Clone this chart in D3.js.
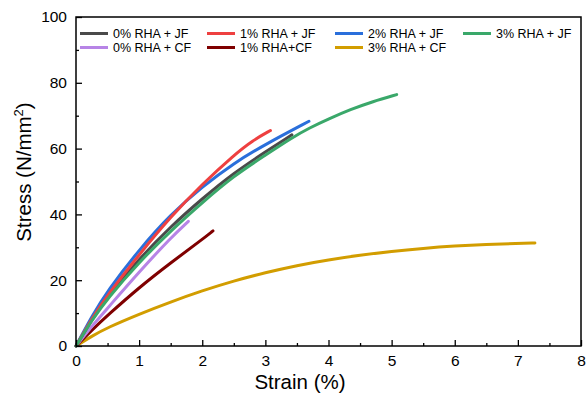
<!DOCTYPE html>
<html>
<head>
<meta charset="utf-8">
<script src="https://cdn.jsdelivr.net/npm/d3@7"></script>
<style>
  html, body { margin: 0; padding: 0; background: #fff; }
  svg { display: block; }
  text { font-family: "Liberation Sans", Arial, sans-serif; fill: #000; }
</style>
</head>
<body>
<svg id="chart" width="586" height="393"></svg>
<script>
// Stress–strain curves, strain in %, stress in N/mm²
const seriesNames = ["0% RHA + JF", "1% RHA + JF", "2% RHA + JF", "3% RHA + JF",
                     "0% RHA + CF", "1% RHA+CF", "3% RHA + CF"];
const seriesColors = ["#4a4a4a", "#ee4040", "#2a6fdb", "#3aa86a",
                      "#b784e6", "#7f0000", "#d29d00"];

const jf0Strain = [0, 0.25, 0.5, 1.0, 1.5, 2.0, 2.5, 3.0, 3.42];
const jf0Stress = [0, 8.0, 15.0, 26.5, 36.3, 44.8, 52.6, 59.0, 64.2];

const jf1Strain = [0, 0.25, 0.5, 1.0, 1.5, 2.0, 2.5, 2.8, 3.08];
const jf1Stress = [0, 8.3, 15.5, 27.8, 39.3, 49.2, 58.0, 62.5, 65.5];

const jf2Strain = [0, 0.25, 0.5, 1.0, 1.5, 2.0, 2.5, 3.0, 3.69];
const jf2Stress = [0, 9.0, 16.8, 29.3, 40.0, 48.4, 55.6, 61.3, 68.3];

const jf3Strain = [0, 0.25, 0.5, 1.0, 1.5, 2.0, 2.5, 3.0, 3.42, 3.7, 4.0, 4.35, 4.7, 5.08];
const jf3Stress = [0, 7.8, 14.5, 25.5, 35.0, 43.6, 51.7, 58.0, 63.3, 66.3, 69.0, 71.9, 74.3, 76.4];

const cf0Strain = [0, 0.25, 0.5, 1.0, 1.5, 1.78];
const cf0Stress = [0, 6.0, 11.5, 22.5, 32.9, 37.9];

const cf1Strain = [0, 0.25, 0.5, 1.0, 1.5, 2.0, 2.17];
const cf1Stress = [0, 4.8, 9.3, 17.8, 25.3, 32.4, 35.0];

const cf3Strain = [0, 0.25, 0.5, 1.0, 1.5, 2.0, 2.5, 3.0, 3.5, 4.0, 4.5, 5.0, 5.5, 6.0, 6.5, 7.0, 7.27];
const cf3Stress = [0, 3.0, 5.6, 9.7, 13.4, 16.8, 19.8, 22.3, 24.5, 26.2, 27.6, 28.8, 29.7, 30.4, 30.9, 31.2, 31.3];

const xTicks = [0, 1, 2, 3, 4, 5, 6, 7, 8];
const yTicks = [0, 20, 40, 60, 80, 100];

const strainSets = [jf0Strain, jf1Strain, jf2Strain, jf3Strain, cf0Strain, cf1Strain, cf3Strain];
const stressSets = [jf0Stress, jf1Stress, jf2Stress, jf3Stress, cf0Stress, cf1Stress, cf3Stress];

const svg = d3.select("#chart");
const plotLeft = 76, plotRight = 581, plotTop = 17, plotBottom = 346;

const x = d3.scaleLinear().domain([0, 8]).range([plotLeft, plotRight]);
const y = d3.scaleLinear().domain([0, 100]).range([plotBottom, plotTop]);

// curves (drawn under the frame), smoothed through the measured points
const line = d3.line().x(d => x(d[0])).y(d => y(d[1])).curve(d3.curveBasis);
const drawOrder = [6, 5, 4, 0, 2, 1, 3];
drawOrder.forEach(i => {
  const pts = strainSets[i].map((s, k) => [s, stressSets[i][k]]);
  svg.append("path")
    .datum(pts)
    .attr("d", line)
    .attr("fill", "none")
    .attr("stroke", seriesColors[i])
    .attr("stroke-width", 3)
    .attr("stroke-linecap", "round")
    .attr("stroke-linejoin", "round");
});

// axes with inward ticks
const xAxis = d3.axisBottom(x).tickValues(xTicks).tickSize(-6).tickPadding(9).tickFormat(d3.format("d"));
const xMinor = d3.axisBottom(x).tickValues(d3.range(0.5, 8, 1)).tickSize(-3).tickFormat("");
const yAxis = d3.axisLeft(y).tickValues(yTicks).tickSize(-6).tickPadding(9).tickFormat(d3.format("d"));
const yMinor = d3.axisLeft(y).tickValues(d3.range(10, 100, 20)).tickSize(-3).tickFormat("");

function styleAxis(g) {
  g.select(".domain").remove();
  g.selectAll(".tick line").attr("stroke", "#000").attr("stroke-width", 1.3);
  g.selectAll(".tick text").style("font-size", "15.5px").style("font-family", "Liberation Sans, Arial, sans-serif");
}

svg.append("g").attr("transform", `translate(0,${plotBottom})`).call(xAxis).call(styleAxis);
svg.append("g").attr("transform", `translate(0,${plotBottom})`).call(xMinor).call(styleAxis);
svg.append("g").attr("transform", `translate(${plotLeft},0)`).call(yAxis).call(styleAxis);
svg.append("g").attr("transform", `translate(${plotLeft},0)`).call(yMinor).call(styleAxis);

// frame
svg.append("rect")
  .attr("x", plotLeft).attr("y", plotTop)
  .attr("width", plotRight - plotLeft).attr("height", plotBottom - plotTop)
  .attr("fill", "none").attr("stroke", "#000").attr("stroke-width", 1.5);

// axis titles
svg.append("text")
  .attr("x", 300).attr("y", 389)
  .attr("text-anchor", "middle")
  .style("font-size", "20.5px")
  .text("Strain (%)");

const yTitle = svg.append("text")
  .attr("transform", `translate(31,172) rotate(-90)`)
  .attr("text-anchor", "middle")
  .style("font-size", "20.5px");
yTitle.append("tspan").text("Stress (N/mm");
yTitle.append("tspan").attr("dy", -8).style("font-size", "13px").text("2");
yTitle.append("tspan").attr("dy", 8).text(")");

// legend: two rows inside the top of the plot
const legendCols = [80, 207, 335, 463];
const legendRows = [33.5, 47.5];
seriesNames.forEach((name, i) => {
  const col = i < 4 ? i : i - 4;
  const row = i < 4 ? 0 : 1;
  const lx = legendCols[col], ly = legendRows[row];
  svg.append("line")
    .attr("x1", lx).attr("x2", lx + 28)
    .attr("y1", ly).attr("y2", ly)
    .attr("stroke", seriesColors[i]).attr("stroke-width", 3);
  svg.append("text")
    .attr("x", lx + 33).attr("y", ly + 4.5)
    .style("font-size", "12.5px")
    .text(name);
});
</script>
</body>
</html>
